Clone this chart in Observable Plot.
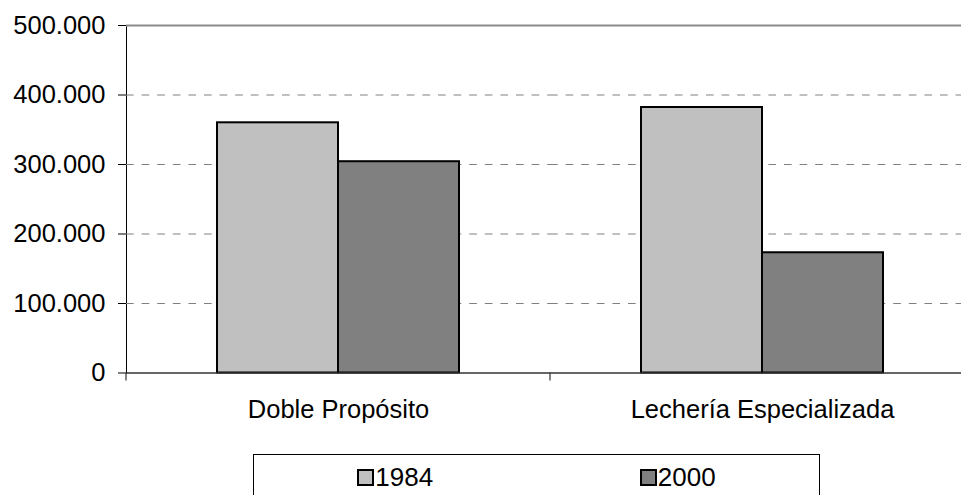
<!DOCTYPE html>
<html>
<head>
<meta charset="utf-8">
<script src="https://cdn.jsdelivr.net/npm/d3@7"></script>
<script src="https://cdn.jsdelivr.net/npm/@observablehq/plot@0.6"></script>
<style>
  html, body { margin: 0; padding: 0; background: #fff; }
  body { width: 961px; height: 495px; overflow: hidden; position: relative; font-family: "Liberation Sans", Arial, sans-serif; }
  #chart { position: absolute; left: 0; top: 0; width: 974px; }
  #chart svg { max-width: none !important; }
  #legend {
    position: absolute; left: 253px; top: 454px; width: 567px; height: 45px;
    border: 1px solid #000; box-sizing: border-box;
    display: flex; justify-content: space-around; align-items: center;
    font-size: 26px; color: #000; padding-top: 2px;
  }
  .item { display: flex; align-items: center; }
  .sw { width: 17px; height: 17px; box-sizing: border-box; border: 2px solid #000; margin-right: 1px; }
</style>
</head>
<body>
<div id="chart"></div>
<div id="legend"></div>
<script>
const categories = ["Doble Propósito", "Lechería Especializada"];
const years = ["1984", "2000"];
const values1984 = [360000, 382000];
const values2000 = [304000, 173000];
const yTicks = [0, 100000, 200000, 300000, 400000, 500000];
const gridTicks = [100000, 200000, 300000, 400000];
const colors = ["#c0c0c0", "#808080"];

const data = categories.flatMap((c, i) => [
  {cat: c, year: years[0], value: values1984[i]},
  {cat: c, year: years[1], value: values2000[i]}
]);

const fmt = d3.formatLocale({decimal: ",", thousands: ".", grouping: [3], currency: ["", ""]}).format(",");

const chart = Plot.plot({
  width: 974,
  height: 495,
  marginLeft: 126,
  marginRight: 0,
  marginTop: 25,
  marginBottom: 122.5,
  style: {fontFamily: "'Liberation Sans', Arial, sans-serif", fontSize: "25.5px", color: "#000", background: "transparent", maxWidth: "none"},
  facet: {data, x: "cat"},
  fx: {type: "band", domain: categories, padding: 0, label: null, tickSize: 0, tickPadding: 27},
  x: {type: "band", domain: years, paddingInner: 0, paddingOuter: 0.745, axis: null},
  y: {domain: [0, 500000], ticks: yTicks, tickFormat: fmt, tickSize: 8, tickPadding: 13, label: null, line: true},
  color: {type: "ordinal", domain: years, range: colors},
  marks: [
    Plot.ruleY(gridTicks, {stroke: "#808080", strokeWidth: 1, strokeDasharray: "7.7,7.9"}),
    Plot.ruleY([500000], {stroke: "#8a8a8a", strokeWidth: 2}),
    Plot.barY(data, {x: "year", y: "value", fill: "year", stroke: "#000", strokeWidth: 2}),
    Plot.ruleY([0], {stroke: "#333", strokeWidth: 1.5})
  ]
});
document.getElementById("chart").appendChild(chart);
const svgEl = chart.tagName.toLowerCase() === "svg" ? chart : chart.querySelector("svg");
svgEl.style.maxWidth = "none";

// drop any warning glyph
d3.select(svgEl).selectAll("text").filter(function () { return (this.textContent || "").includes("\u26a0"); }).remove();

// category boundary ticks derived from the fx / y scales
try {
  const fx = chart.scale("fx");
  const y = chart.scale("y");
  const y0 = y.apply(0);
  const bounds = categories.map(c => fx.apply(c)).concat([fx.apply(categories[categories.length - 1]) + fx.bandwidth]);
  d3.select(svgEl).append("g").selectAll("line").data(bounds).join("line")
    .attr("x1", d => d).attr("x2", d => d)
    .attr("y1", y0).attr("y2", y0 + 8)
    .attr("stroke", "#333").attr("stroke-width", 1.2);
} catch (e) { console.error(e); }

// legend
const legend = d3.select("#legend");
years.forEach((yr, i) => {
  const it = legend.append("div").attr("class", "item");
  it.append("div").attr("class", "sw").style("background", colors[i]);
  it.append("span").text(yr);
});
</script>
</body>
</html>
